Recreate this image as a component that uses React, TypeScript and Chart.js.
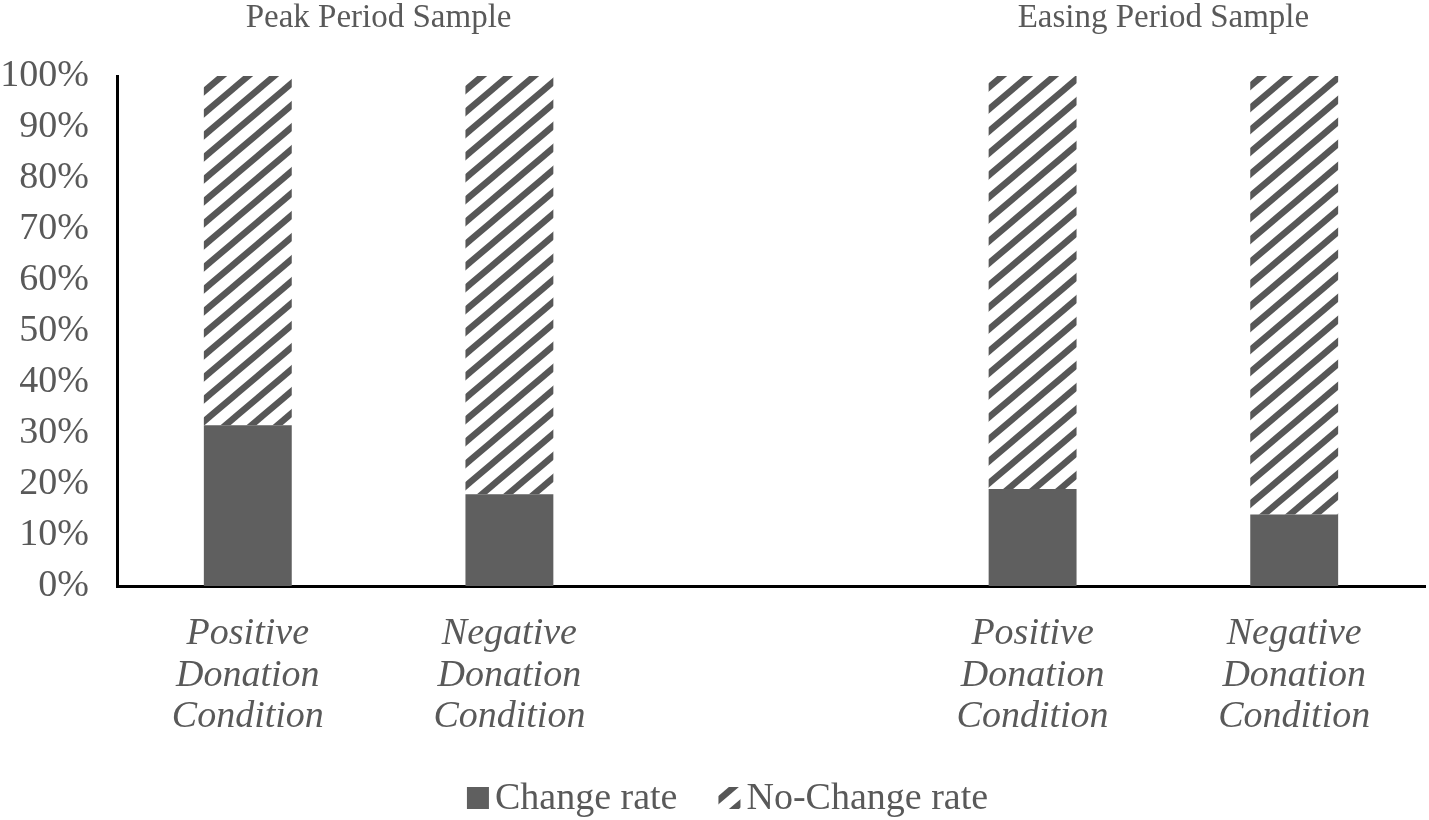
import { useEffect, useRef } from "react";
import { Chart, registerables } from "chart.js";

Chart.register(...registerables);

const CATEGORIES = [
  ["Positive", "Donation", "Condition"],
  ["Negative", "Donation", "Condition"],
  [""],
  ["Positive", "Donation", "Condition"],
  ["Negative", "Donation", "Condition"],
];
const CHANGE_RATE = [31.5, 18, null, 19, 14];
const NO_CHANGE_RATE = [68.5, 82, null, 81, 86];
const GROUP_TITLES = ["Peak Period Sample", "Easing Period Sample"];
const Y_TICKS = [0, 10, 20, 30, 40, 50, 60, 70, 80, 90, 100];

const FONT = "'Liberation Serif', 'Times New Roman', serif";
const TEXT = "#595959";
const BAR = "#5f5f5f";
const STRIPE = "#575757";

function makeHatch() {
  const w = 26;
  const h = 22;
  const c = document.createElement("canvas");
  c.width = w;
  c.height = h;
  const ctx = c.getContext("2d")!;
  ctx.fillStyle = "#ffffff";
  ctx.fillRect(0, 0, w, h);
  ctx.strokeStyle = STRIPE;
  ctx.lineWidth = 6.4;
  // long upward stripes so the tile edges join without gaps
  for (const ox of [-w, 0, w]) {
    ctx.beginPath();
    ctx.moveTo(ox - w, 2 * h);
    ctx.lineTo(ox + 2 * w, -h);
    ctx.stroke();
  }
  return ctx.createPattern(c, "repeat")!;
}

const groupTitles = {
  id: "groupTitles",
  afterDraw(chart: Chart) {
    const x = chart.scales.x;
    const ctx = chart.ctx;
    ctx.save();
    ctx.font = `33px ${FONT}`;
    ctx.fillStyle = TEXT;
    ctx.textAlign = "center";
    ctx.textBaseline = "middle";
    const c1 = (x.getPixelForValue(0) + x.getPixelForValue(1)) / 2;
    const c2 = (x.getPixelForValue(3) + x.getPixelForValue(4)) / 2;
    ctx.fillText(GROUP_TITLES[0], c1, 18);
    ctx.fillText(GROUP_TITLES[1], c2, 18);
    ctx.restore();
  },
};

// Excel-style legend: small square sitting on the text baseline
const bottomLegend = {
  id: "bottomLegend",
  afterDraw(chart: Chart) {
    const ctx = chart.ctx;
    const box = 22;
    const gap = 6;
    const spacing = 41;
    const baseline = chart.height - 11;
    ctx.save();
    ctx.font = `38px ${FONT}`;
    const items = chart.data.datasets.map((ds) => ({
      text: ds.label as string,
      fill: ds.backgroundColor as any,
      width: ctx.measureText(ds.label as string).width,
    }));
    const total =
      items.reduce((s, it) => s + box + gap + it.width, 0) +
      spacing * (items.length - 1);
    let x = chart.width / 2 + 13 - total / 2;
    ctx.textBaseline = "alphabetic";
    ctx.textAlign = "left";
    for (const it of items) {
      ctx.fillStyle = it.fill;
      ctx.fillRect(x, baseline - box, box, box);
      ctx.fillStyle = TEXT;
      ctx.fillText(it.text, x + box + gap, baseline);
      x += box + gap + it.width + spacing;
    }
    ctx.restore();
  },
};

export default function App() {
  const canvasRef = useRef<HTMLCanvasElement>(null);

  useEffect(() => {
    if (!canvasRef.current) return;
    const hatch = makeHatch();
    const chart = new Chart(canvasRef.current, {
      type: "bar",
      data: {
        labels: CATEGORIES,
        datasets: [
          {
            label: "Change rate",
            data: CHANGE_RATE,
            backgroundColor: BAR,
            borderWidth: 0,
          },
          {
            label: "No-Change rate",
            data: NO_CHANGE_RATE,
            backgroundColor: hatch,
            borderWidth: 0,
          },
        ],
      },
      options: {
        responsive: true,
        maintainAspectRatio: false,
        animation: false,
        layout: { padding: { top: 76, right: 4, left: 0, bottom: 84 } },
        datasets: {
          bar: { categoryPercentage: 1, barPercentage: 0.336 },
        },
        scales: {
          x: {
            stacked: true,
            grid: { display: false },
            border: { display: true, color: "#000", width: 3 },
            afterFit(axis) {
              axis.height = 150;
            },
            ticks: {
              color: TEXT,
              autoSkip: false,
              maxRotation: 0,
              padding: 19,
              font: { family: FONT, size: 38, style: "italic", lineHeight: 1.1 },
            },
          },
          y: {
            stacked: true,
            min: 0,
            max: 100,
            grid: { display: false },
            border: { display: true, color: "#000", width: 3 },
            afterFit(axis) {
              axis.width = 117;
            },
            afterBuildTicks(axis) {
              axis.ticks = Y_TICKS.map((v) => ({ value: v }));
            },
            ticks: {
              color: TEXT,
              padding: 20,
              font: { family: FONT, size: 38 },
              callback: (v) => `${v}%`,
            },
          },
        },
        plugins: {
          legend: { display: false },
          tooltip: { enabled: false },
        },
      },
      plugins: [groupTitles, bottomLegend],
    });
    return () => chart.destroy();
  }, []);

  return (
    <div
      style={{
        position: "absolute",
        left: 0,
        top: 0,
        width: "1429px",
        height: "820px",
        background: "#fff",
      }}
    >
      <canvas ref={canvasRef} />
    </div>
  );
}
